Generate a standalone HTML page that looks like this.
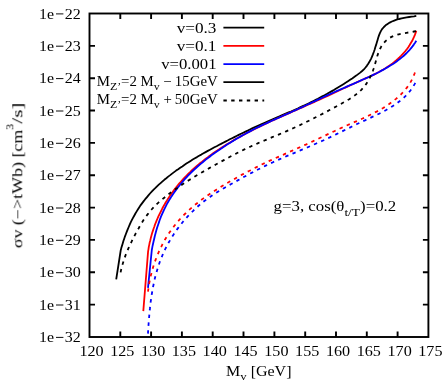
<!DOCTYPE html><html><head><meta charset="utf-8"><style>html,body{margin:0;padding:0;background:#fff}svg{display:block}text{font-family:"Liberation Serif",serif;font-size:14px;fill:#000}.s{font-size:11.2px}</style></head><body>
<svg width="445" height="386" viewBox="0 0 445 386">
<defs><filter id="gs" x="0" y="0" width="445" height="386" filterUnits="userSpaceOnUse" color-interpolation-filters="sRGB"><feColorMatrix type="saturate" values="0"/></filter></defs>
<rect width="445" height="386" fill="#fff"/>
<path d="M116.2 279.4L120.7 250.5L121.3 248.1L122.0 245.8L122.7 243.4L123.4 241.0L124.2 238.7L125.0 236.3L125.9 234.0L126.8 231.6L127.7 229.3L128.7 227.0L129.7 224.7L130.7 222.4L131.8 220.2L133.0 217.9L134.2 215.7L135.4 213.5L136.7 211.4L138.0 209.3L139.3 207.2L140.7 205.1L142.2 203.1L143.7 201.1L145.2 199.2L146.8 197.3L148.4 195.4L150.0 193.5L151.7 191.7L153.4 189.9L155.2 188.2L157.0 186.4L158.8 184.7L160.6 183.1L162.5 181.4L164.3 179.8L166.3 178.2L168.2 176.6L170.2 175.1L172.1 173.6L174.1 172.1L176.1 170.6L178.2 169.2L180.2 167.8L182.3 166.4L184.3 165.0L186.4 163.6L188.5 162.3L190.6 160.9L192.7 159.6L194.9 158.3L197.0 157.1L199.1 155.8L201.3 154.6L203.5 153.3L205.6 152.1L207.8 150.9L210.0 149.7L212.2 148.5L214.4 147.3L216.6 146.2L218.8 145.0L221.0 143.9L223.2 142.7L225.4 141.6L227.6 140.5L229.8 139.3L232.1 138.2L234.3 137.1L236.5 136.0L238.7 134.9L241.0 133.8L243.2 132.7L245.5 131.6L247.7 130.6L249.9 129.5L252.2 128.4L254.4 127.4L256.7 126.3L259.0 125.3L261.2 124.3L263.5 123.3L265.8 122.3L268.0 121.3L270.3 120.3L272.6 119.3L274.9 118.3L277.2 117.3L279.5 116.4L281.7 115.4L284.0 114.4L286.3 113.4L288.6 112.4L290.9 111.5L293.2 110.5L295.4 109.5L297.7 108.5L300.0 107.4L302.2 106.4L304.5 105.4L306.8 104.3L309.0 103.2L311.2 102.1L313.5 101.0L315.7 99.9L317.9 98.8L320.1 97.6L322.3 96.4L324.5 95.3L326.7 94.1L328.9 92.8L331.0 91.6L333.2 90.4L335.4 89.1L337.5 87.8L339.6 86.5L341.7 85.2L343.8 83.9L345.9 82.6L348.0 81.2L350.1 79.8L352.2 78.4L354.2 77.0L356.2 75.6L358.2 74.1L360.2 72.6L362.1 71.0L363.9 69.3L365.5 67.5L367.0 65.6L368.4 63.5L369.7 61.3L370.9 59.1L371.9 56.8L372.9 54.4L373.8 52.0L374.6 49.7L375.3 47.3L376.1 44.9L376.8 42.6L377.5 40.2L378.2 37.8L379.0 35.4L379.9 33.1L381.0 30.9L382.3 28.8L383.9 27.0L385.6 25.3L387.6 23.9L389.7 22.6L391.9 21.5L394.2 20.6L396.6 19.7L399.1 19.0L401.6 18.4L404.1 17.9L406.7 17.4L409.2 17.0L411.6 16.6L414.0 16.3L416.3 15.9" fill="none" stroke="#000" stroke-width="1.8" stroke-linejoin="round"/>
<path d="M143.3 311.1L148.1 251.4L148.5 249.1L148.8 246.9L149.3 244.6L149.7 242.4L150.3 240.2L150.8 237.9L151.4 235.7L152.0 233.5L152.7 231.4L153.4 229.2L154.2 227.0L154.9 224.9L155.7 222.8L156.6 220.6L157.5 218.5L158.4 216.4L159.4 214.4L160.4 212.3L161.4 210.3L162.4 208.3L163.5 206.3L164.7 204.3L165.8 202.3L167.0 200.4L168.2 198.4L169.5 196.5L170.8 194.6L172.1 192.8L173.4 190.9L174.8 189.1L176.2 187.3L177.6 185.5L179.1 183.7L180.6 182.0L182.1 180.3L183.6 178.6L185.2 177.0L186.8 175.3L188.4 173.7L190.1 172.1L191.7 170.5L193.4 169.0L195.1 167.5L196.8 166.0L198.6 164.5L200.3 163.0L202.1 161.6L203.9 160.1L205.7 158.7L207.6 157.4L209.4 156.0L211.3 154.6L213.1 153.3L215.0 152.0L216.9 150.7L218.8 149.5L220.7 148.2L222.6 147.0L224.6 145.8L226.5 144.6L228.4 143.4L230.4 142.2L232.4 141.0L234.3 139.9L236.3 138.8L238.3 137.7L240.3 136.6L242.3 135.5L244.3 134.4L246.3 133.3L248.3 132.3L250.4 131.2L252.4 130.2L254.4 129.2L256.5 128.2L258.5 127.2L260.6 126.2L262.6 125.2L264.7 124.2L266.8 123.2L268.8 122.3L270.9 121.3L273.0 120.3L275.1 119.4L277.1 118.5L279.2 117.5L281.3 116.6L283.4 115.6L285.5 114.7L287.6 113.8L289.7 112.9L291.8 111.9L293.9 111.0L296.0 110.1L298.1 109.2L300.1 108.2L302.2 107.3L304.3 106.4L306.4 105.5L308.5 104.5L310.6 103.6L312.7 102.7L314.8 101.8L316.9 100.8L318.9 99.9L321.0 98.9L323.1 98.0L325.2 97.0L327.2 96.1L329.3 95.1L331.4 94.1L333.4 93.2L335.5 92.2L337.6 91.2L339.6 90.3L341.7 89.3L343.8 88.3L345.8 87.4L347.9 86.4L350.0 85.4L352.0 84.5L354.1 83.5L356.2 82.6L358.3 81.6L360.3 80.7L362.4 79.8L364.5 78.8L366.6 77.9L368.7 77.0L370.8 76.0L372.9 75.1L374.9 74.1L377.0 73.0L379.0 72.0L381.0 70.8L383.0 69.7L385.0 68.5L386.9 67.3L388.8 66.0L390.7 64.7L392.5 63.4L394.3 62.0L396.1 60.5L397.8 59.0L399.4 57.5L401.0 55.9L402.6 54.2L404.1 52.5L405.6 50.8L407.0 49.0L408.3 47.2L409.5 45.3L410.7 43.3L411.9 41.3L412.9 39.3L413.9 37.2L414.8 35.1L415.6 32.9L416.3 30.7" fill="none" stroke="#f00" stroke-width="1.8" stroke-linejoin="round"/>
<path d="M148.0 287.8L151.8 250.0L152.2 247.8L152.6 245.7L153.1 243.5L153.6 241.3L154.1 239.2L154.6 237.0L155.1 234.9L155.7 232.7L156.3 230.6L156.9 228.4L157.6 226.3L158.3 224.2L159.0 222.1L159.7 220.0L160.5 217.9L161.3 215.8L162.2 213.8L163.1 211.8L164.0 209.8L165.0 207.8L166.0 205.8L167.0 203.9L168.1 202.0L169.2 200.1L170.4 198.2L171.5 196.4L172.8 194.5L174.0 192.7L175.3 190.9L176.6 189.1L177.9 187.4L179.3 185.7L180.7 184.0L182.1 182.3L183.5 180.6L185.0 178.9L186.5 177.3L188.0 175.7L189.6 174.1L191.1 172.6L192.7 171.0L194.3 169.5L196.0 168.0L197.6 166.5L199.3 165.0L201.0 163.6L202.7 162.2L204.4 160.8L206.1 159.4L207.9 158.0L209.7 156.7L211.4 155.3L213.2 154.0L215.0 152.7L216.8 151.4L218.7 150.2L220.5 148.9L222.4 147.7L224.2 146.5L226.1 145.2L227.9 144.1L229.8 142.9L231.7 141.7L233.6 140.6L235.5 139.4L237.4 138.3L239.3 137.2L241.2 136.1L243.1 135.0L245.1 134.0L247.0 132.9L249.0 131.9L250.9 130.9L252.9 129.8L254.8 128.8L256.8 127.8L258.8 126.9L260.8 125.9L262.8 124.9L264.8 124.0L266.8 123.1L268.8 122.1L270.8 121.2L272.8 120.3L274.8 119.4L276.9 118.5L278.9 117.6L280.9 116.7L282.9 115.8L285.0 114.9L287.0 114.0L289.0 113.1L291.0 112.2L293.0 111.3L295.0 110.4L297.0 109.5L299.0 108.5L301.1 107.6L303.1 106.7L305.1 105.7L307.1 104.8L309.1 103.9L311.1 102.9L313.1 102.0L315.0 101.1L317.0 100.1L319.0 99.2L321.1 98.2L323.1 97.3L325.1 96.4L327.1 95.4L329.1 94.5L331.1 93.6L333.1 92.7L335.1 91.8L337.1 90.9L339.2 90.0L341.2 89.1L343.2 88.2L345.3 87.3L347.3 86.4L349.3 85.5L351.4 84.6L353.4 83.8L355.5 82.9L357.5 82.0L359.5 81.1L361.6 80.2L363.6 79.3L365.6 78.4L367.7 77.5L369.7 76.6L371.7 75.6L373.7 74.6L375.7 73.7L377.6 72.7L379.6 71.7L381.5 70.6L383.5 69.6L385.4 68.5L387.3 67.4L389.2 66.3L391.1 65.1L393.0 63.9L394.8 62.7L396.6 61.4L398.4 60.1L400.1 58.8L401.8 57.4L403.5 56.0L405.1 54.5L406.7 53.0L408.2 51.4L409.7 49.8L411.1 48.1L412.5 46.4L413.8 44.6L415.1 42.7L416.3 40.8" fill="none" stroke="#00f" stroke-width="1.8" stroke-linejoin="round"/>
<path d="M120.6 272.4L121.1 269.9L121.7 267.4L122.4 265.0L123.1 262.6L123.9 260.2L124.7 257.8L125.5 255.4L126.4 253.1L127.4 250.8L128.4 248.4L129.4 246.1L130.5 243.9L131.6 241.6L132.7 239.3L133.8 237.1L135.0 234.8L136.2 232.6L137.4 230.4L138.7 228.2L139.9 226.0L141.2 223.8L142.6 221.6L143.9 219.5L145.4 217.4L146.8 215.4L148.4 213.4L149.9 211.4L151.6 209.5L153.3 207.7L155.0 205.9L156.8 204.1L158.7 202.4L160.6 200.7L162.5 199.1L164.5 197.5L166.4 195.9L168.4 194.3L170.5 192.8L172.5 191.3L174.5 189.8L176.6 188.4L178.7 186.9L180.8 185.5L182.9 184.1L185.0 182.7L187.1 181.3L189.2 180.0L191.4 178.7L193.5 177.3L195.7 176.0L197.9 174.7L200.0 173.5L202.2 172.2L204.4 170.9L206.6 169.7L208.8 168.4L211.0 167.2L213.2 166.0L215.4 164.7L217.6 163.5L219.8 162.3L222.0 161.1L224.3 159.9L226.5 158.7L228.7 157.5L230.9 156.3L233.2 155.1L235.4 154.0L237.6 152.8L239.9 151.7L242.1 150.5L244.4 149.4L246.7 148.3L249.0 147.3L251.3 146.2L253.6 145.2L255.9 144.2L258.2 143.1L260.5 142.1L262.9 141.1L265.2 140.2L267.5 139.2L269.9 138.2L272.2 137.2L274.5 136.2L276.9 135.3L279.2 134.3L281.5 133.3L283.8 132.3L286.2 131.3L288.5 130.3L290.8 129.3L293.1 128.2L295.3 127.2L297.6 126.1L299.9 125.1L302.2 124.0L304.4 122.9L306.7 121.8L308.9 120.7L311.2 119.6L313.4 118.5L315.7 117.3L317.9 116.2L320.2 115.0L322.4 113.9L324.6 112.7L326.9 111.5L329.1 110.3L331.4 109.1L333.6 107.9L335.8 106.7L338.1 105.5L340.3 104.3L342.5 103.0L344.8 101.8L347.0 100.5L349.2 99.2L351.4 97.8L353.5 96.4L355.5 94.9L357.5 93.4L359.3 91.8L361.1 90.1L362.8 88.3L364.4 86.4L365.9 84.4L367.3 82.3L368.5 80.2L369.7 78.0L370.9 75.7L371.9 73.3L372.8 71.0L373.7 68.5L374.5 66.0L375.2 63.5L375.9 61.0L376.6 58.5L377.3 56.0L378.1 53.6L379.0 51.3L380.0 49.0L381.1 46.8L382.4 44.8L383.8 42.9L385.5 41.1L387.4 39.6L389.4 38.1L391.5 36.9L393.8 35.8L396.3 35.0L398.8 34.3L401.3 33.7L403.9 33.2L406.5 32.8L409.0 32.4L411.6 32.0L414.0 31.5L416.3 31.0" fill="none" stroke="#000" stroke-width="1.8" stroke-dasharray="3.4 4.4" stroke-linejoin="round"/>
<path d="M148.0 291.7L148.3 289.5L148.6 287.2L148.9 285.0L149.3 282.7L149.8 280.5L150.2 278.2L150.7 276.0L151.3 273.8L151.8 271.6L152.5 269.4L153.1 267.2L153.8 265.0L154.5 262.8L155.3 260.6L156.1 258.5L156.9 256.3L157.8 254.2L158.7 252.1L159.7 250.0L160.6 247.9L161.7 245.8L162.7 243.8L163.8 241.8L164.9 239.8L166.1 237.8L167.3 235.8L168.5 233.9L169.8 232.0L171.1 230.2L172.4 228.3L173.8 226.5L175.2 224.7L176.6 222.9L178.1 221.2L179.6 219.5L181.1 217.9L182.7 216.2L184.2 214.6L185.9 213.0L187.5 211.4L189.2 209.9L190.9 208.4L192.6 206.9L194.3 205.4L196.1 204.0L197.9 202.6L199.7 201.2L201.5 199.8L203.4 198.4L205.2 197.1L207.1 195.8L209.0 194.5L210.9 193.2L212.8 191.9L214.7 190.7L216.7 189.4L218.6 188.2L220.6 187.0L222.6 185.8L224.6 184.6L226.5 183.4L228.5 182.3L230.5 181.1L232.5 180.0L234.5 178.9L236.5 177.7L238.5 176.6L240.5 175.5L242.5 174.4L244.5 173.4L246.5 172.3L248.5 171.2L250.6 170.2L252.6 169.1L254.6 168.1L256.6 167.1L258.7 166.0L260.7 165.0L262.8 164.0L264.8 163.1L266.9 162.1L268.9 161.1L271.0 160.2L273.1 159.2L275.2 158.3L277.3 157.3L279.4 156.4L281.4 155.5L283.5 154.6L285.6 153.6L287.7 152.7L289.8 151.8L291.9 150.8L294.0 149.9L296.1 149.0L298.1 148.0L300.2 147.1L302.3 146.1L304.4 145.2L306.5 144.3L308.5 143.3L310.6 142.3L312.7 141.4L314.7 140.4L316.8 139.5L318.8 138.5L320.9 137.5L322.9 136.6L325.0 135.6L327.0 134.6L329.1 133.6L331.1 132.6L333.2 131.7L335.3 130.7L337.3 129.7L339.4 128.8L341.5 127.8L343.6 126.9L345.7 126.0L347.8 125.0L349.9 124.1L352.1 123.2L354.2 122.2L356.3 121.3L358.4 120.4L360.5 119.4L362.6 118.5L364.8 117.5L366.8 116.5L368.9 115.5L371.0 114.5L373.1 113.5L375.1 112.4L377.1 111.4L379.1 110.3L381.1 109.1L383.1 108.0L385.0 106.8L386.9 105.6L388.8 104.3L390.6 103.0L392.5 101.7L394.2 100.3L396.0 98.9L397.7 97.4L399.4 95.9L401.0 94.3L402.6 92.7L404.1 91.1L405.5 89.4L406.9 87.6L408.3 85.8L409.5 83.9L410.7 81.9L411.8 79.9L412.8 77.8L413.7 75.7L414.6 73.5L415.3 71.2" fill="none" stroke="#f00" stroke-width="1.8" stroke-dasharray="3.4 4.4" stroke-linejoin="round"/>
<path d="M148.0 333.6L148.1 331.1L148.3 328.7L148.4 326.2L148.6 323.7L148.8 321.3L149.0 318.8L149.2 316.3L149.4 313.8L149.6 311.4L149.9 308.9L150.1 306.4L150.4 303.9L150.7 301.5L151.1 299.0L151.4 296.5L151.8 294.1L152.2 291.6L152.6 289.2L153.1 286.7L153.6 284.3L154.1 281.9L154.6 279.4L155.2 277.0L155.8 274.6L156.5 272.2L157.2 269.9L157.9 267.5L158.7 265.2L159.5 262.8L160.3 260.5L161.2 258.2L162.2 255.9L163.1 253.6L164.2 251.4L165.2 249.1L166.4 246.9L167.5 244.7L168.7 242.5L170.0 240.4L171.2 238.2L172.6 236.1L173.9 234.0L175.3 232.0L176.7 229.9L178.2 227.9L179.7 225.9L181.2 224.0L182.8 222.0L184.4 220.1L186.0 218.3L187.7 216.4L189.4 214.6L191.1 212.8L192.9 211.1L194.6 209.4L196.5 207.7L198.3 206.0L200.2 204.4L202.1 202.8L204.0 201.3L206.0 199.8L207.9 198.3L210.0 196.9L212.0 195.5L214.1 194.1L216.2 192.8L218.3 191.5L220.4 190.2L222.6 188.9L224.7 187.7L226.9 186.5L229.0 185.2L231.2 184.0L233.4 182.8L235.6 181.6L237.7 180.4L239.9 179.2L242.1 178.0L244.2 176.8L246.4 175.6L248.6 174.4L250.8 173.2L253.0 172.1L255.2 170.9L257.4 169.8L259.6 168.7L261.8 167.6L264.0 166.5L266.2 165.4L268.5 164.3L270.7 163.3L273.0 162.2L275.2 161.2L277.5 160.2L279.8 159.2L282.0 158.2L284.3 157.2L286.6 156.2L288.9 155.2L291.2 154.2L293.4 153.3L295.7 152.3L298.0 151.3L300.3 150.4L302.6 149.4L304.9 148.4L307.2 147.5L309.5 146.5L311.7 145.5L314.0 144.5L316.3 143.5L318.6 142.5L320.8 141.5L323.1 140.5L325.3 139.5L327.6 138.4L329.8 137.4L332.0 136.3L334.2 135.2L336.5 134.1L338.7 133.1L340.9 132.0L343.1 130.9L345.3 129.8L347.6 128.7L349.8 127.6L352.0 126.5L354.2 125.4L356.5 124.3L358.7 123.3L361.0 122.2L363.2 121.1L365.5 120.1L367.8 119.0L370.0 118.0L372.3 116.9L374.6 115.9L376.8 114.8L379.1 113.7L381.3 112.6L383.5 111.4L385.7 110.3L387.9 109.0L390.0 107.8L392.1 106.5L394.2 105.2L396.2 103.8L398.2 102.3L400.2 100.8L402.1 99.2L403.9 97.6L405.7 95.9L407.4 94.1L409.0 92.3L410.6 90.3L412.0 88.3L413.4 86.2L414.6 84.1L415.8 81.8" fill="none" stroke="#00f" stroke-width="1.8" stroke-dasharray="3.4 4.4" stroke-linejoin="round"/>
<path d="M223.4 27.7H264.2" stroke="#000" stroke-width="1.8"/>
<path d="M223.4 45.8H264.2" stroke="#f00" stroke-width="1.8"/>
<path d="M223.4 64.2H264.2" stroke="#00f" stroke-width="1.8"/>
<path d="M223.4 82.2H264.2" stroke="#000" stroke-width="1.8"/>
<path d="M223.4 100.5H264.2" stroke="#000" stroke-width="1.8" stroke-dasharray="3.4 4.4"/>
<rect x="89.5" y="13.5" width="338.9" height="323.5" fill="none" stroke="#000" stroke-width="1.9"/>
<path d="M120.3 337.0v-5.5M120.3 13.5v5.5M151.1 337.0v-5.5M151.1 13.5v5.5M181.9 337.0v-5.5M181.9 13.5v5.5M212.7 337.0v-5.5M212.7 13.5v5.5M243.5 337.0v-5.5M243.5 13.5v5.5M274.4 337.0v-5.5M274.4 13.5v5.5M305.2 337.0v-5.5M305.2 13.5v5.5M336.0 337.0v-5.5M336.0 13.5v5.5M366.8 337.0v-5.5M366.8 13.5v5.5M397.6 337.0v-5.5M397.6 13.5v5.5M89.5 45.9h5.5M428.4 45.9h-5.5M89.5 78.2h5.5M428.4 78.2h-5.5M89.5 110.5h5.5M428.4 110.5h-5.5M89.5 142.9h5.5M428.4 142.9h-5.5M89.5 175.2h5.5M428.4 175.2h-5.5M89.5 207.6h5.5M428.4 207.6h-5.5M89.5 239.9h5.5M428.4 239.9h-5.5M89.5 272.3h5.5M428.4 272.3h-5.5M89.5 304.6h5.5M428.4 304.6h-5.5" stroke="#000" stroke-width="1.9" fill="none"/>
<g filter="url(#gs)">
<text x="91.5" y="356.2" text-anchor="middle" textLength="24.2" lengthAdjust="spacingAndGlyphs">120</text>
<text x="122.3" y="356.2" text-anchor="middle" textLength="24.2" lengthAdjust="spacingAndGlyphs">125</text>
<text x="153.1" y="356.2" text-anchor="middle" textLength="24.2" lengthAdjust="spacingAndGlyphs">130</text>
<text x="183.9" y="356.2" text-anchor="middle" textLength="24.2" lengthAdjust="spacingAndGlyphs">135</text>
<text x="214.7" y="356.2" text-anchor="middle" textLength="24.2" lengthAdjust="spacingAndGlyphs">140</text>
<text x="245.5" y="356.2" text-anchor="middle" textLength="24.2" lengthAdjust="spacingAndGlyphs">145</text>
<text x="276.4" y="356.2" text-anchor="middle" textLength="24.2" lengthAdjust="spacingAndGlyphs">150</text>
<text x="307.2" y="356.2" text-anchor="middle" textLength="24.2" lengthAdjust="spacingAndGlyphs">155</text>
<text x="338.0" y="356.2" text-anchor="middle" textLength="24.2" lengthAdjust="spacingAndGlyphs">160</text>
<text x="368.8" y="356.2" text-anchor="middle" textLength="24.2" lengthAdjust="spacingAndGlyphs">165</text>
<text x="399.6" y="356.2" text-anchor="middle" textLength="24.2" lengthAdjust="spacingAndGlyphs">170</text>
<text x="430.4" y="356.2" text-anchor="middle" textLength="24.2" lengthAdjust="spacingAndGlyphs">175</text>
<text x="39.0" y="18.5" textLength="15.0" lengthAdjust="spacingAndGlyphs">1e</text>
<path d="M56.0 13.9h7.4" stroke="#000" stroke-width="0.95"/>
<text x="80.8" y="18.5" text-anchor="end" textLength="16.0" lengthAdjust="spacingAndGlyphs">22</text>
<text x="39.0" y="50.9" textLength="15.0" lengthAdjust="spacingAndGlyphs">1e</text>
<path d="M56.0 46.2h7.4" stroke="#000" stroke-width="0.95"/>
<text x="80.8" y="50.9" text-anchor="end" textLength="16.0" lengthAdjust="spacingAndGlyphs">23</text>
<text x="39.0" y="83.2" textLength="15.0" lengthAdjust="spacingAndGlyphs">1e</text>
<path d="M56.0 78.6h7.4" stroke="#000" stroke-width="0.95"/>
<text x="80.8" y="83.2" text-anchor="end" textLength="16.0" lengthAdjust="spacingAndGlyphs">24</text>
<text x="39.0" y="115.5" textLength="15.0" lengthAdjust="spacingAndGlyphs">1e</text>
<path d="M56.0 111.0h7.4" stroke="#000" stroke-width="0.95"/>
<text x="80.8" y="115.5" text-anchor="end" textLength="16.0" lengthAdjust="spacingAndGlyphs">25</text>
<text x="39.0" y="147.9" textLength="15.0" lengthAdjust="spacingAndGlyphs">1e</text>
<path d="M56.0 143.3h7.4" stroke="#000" stroke-width="0.95"/>
<text x="80.8" y="147.9" text-anchor="end" textLength="16.0" lengthAdjust="spacingAndGlyphs">26</text>
<text x="39.0" y="180.2" textLength="15.0" lengthAdjust="spacingAndGlyphs">1e</text>
<path d="M56.0 175.7h7.4" stroke="#000" stroke-width="0.95"/>
<text x="80.8" y="180.2" text-anchor="end" textLength="16.0" lengthAdjust="spacingAndGlyphs">27</text>
<text x="39.0" y="212.6" textLength="15.0" lengthAdjust="spacingAndGlyphs">1e</text>
<path d="M56.0 208.0h7.4" stroke="#000" stroke-width="0.95"/>
<text x="80.8" y="212.6" text-anchor="end" textLength="16.0" lengthAdjust="spacingAndGlyphs">28</text>
<text x="39.0" y="244.9" textLength="15.0" lengthAdjust="spacingAndGlyphs">1e</text>
<path d="M56.0 240.3h7.4" stroke="#000" stroke-width="0.95"/>
<text x="80.8" y="244.9" text-anchor="end" textLength="16.0" lengthAdjust="spacingAndGlyphs">29</text>
<text x="39.0" y="277.3" textLength="15.0" lengthAdjust="spacingAndGlyphs">1e</text>
<path d="M56.0 272.7h7.4" stroke="#000" stroke-width="0.95"/>
<text x="80.8" y="277.3" text-anchor="end" textLength="16.0" lengthAdjust="spacingAndGlyphs">30</text>
<text x="39.0" y="309.6" textLength="15.0" lengthAdjust="spacingAndGlyphs">1e</text>
<path d="M56.0 305.0h7.4" stroke="#000" stroke-width="0.95"/>
<text x="80.8" y="309.6" text-anchor="end" textLength="16.0" lengthAdjust="spacingAndGlyphs">31</text>
<text x="39.0" y="342.0" textLength="15.0" lengthAdjust="spacingAndGlyphs">1e</text>
<path d="M56.0 337.4h7.4" stroke="#000" stroke-width="0.95"/>
<text x="80.8" y="342.0" text-anchor="end" textLength="16.0" lengthAdjust="spacingAndGlyphs">32</text>
<text x="216.5" y="32.6" text-anchor="end" textLength="39.8" lengthAdjust="spacingAndGlyphs">v=0.3</text>
<text x="216.5" y="50.7" text-anchor="end" textLength="39.8" lengthAdjust="spacingAndGlyphs">v=0.1</text>
<text x="216.5" y="69.1" text-anchor="end" textLength="55.3" lengthAdjust="spacingAndGlyphs">v=0.001</text>
<text x="96.7" y="85.7" textLength="121" lengthAdjust="spacingAndGlyphs">M<tspan class="s" dy="4">Z’</tspan><tspan dy="-4">=2 M</tspan><tspan class="s" dy="4">v</tspan><tspan dy="-4"> − 15GeV</tspan></text>
<text x="96.7" y="103.8" textLength="121" lengthAdjust="spacingAndGlyphs">M<tspan class="s" dy="4">Z’</tspan><tspan dy="-4">=2 M</tspan><tspan class="s" dy="4">v</tspan><tspan dy="-4"> + 50GeV</tspan></text>
<text x="273.6" y="211.4" textLength="122.6" lengthAdjust="spacingAndGlyphs">g=3, cos(θ<tspan class="s" dy="4.4">t/T</tspan><tspan dy="-4.4">)=0.2</tspan></text>
<text x="226" y="375.8" textLength="65.5" lengthAdjust="spacingAndGlyphs">M<tspan class="s" dy="4">v</tspan><tspan dy="-4"> [GeV]</tspan></text>
<g transform="translate(22.3,248.2) rotate(-90)"><text x="0" y="0" textLength="118.5" lengthAdjust="spacingAndGlyphs">σv (−&gt;tWb) [cm</text><text class="s" x="118.2" y="-8.6" textLength="6" lengthAdjust="spacingAndGlyphs">3</text><text x="145.6" y="0" text-anchor="end" textLength="21" lengthAdjust="spacingAndGlyphs">/s]</text></g>
</g>
</svg></body></html>
